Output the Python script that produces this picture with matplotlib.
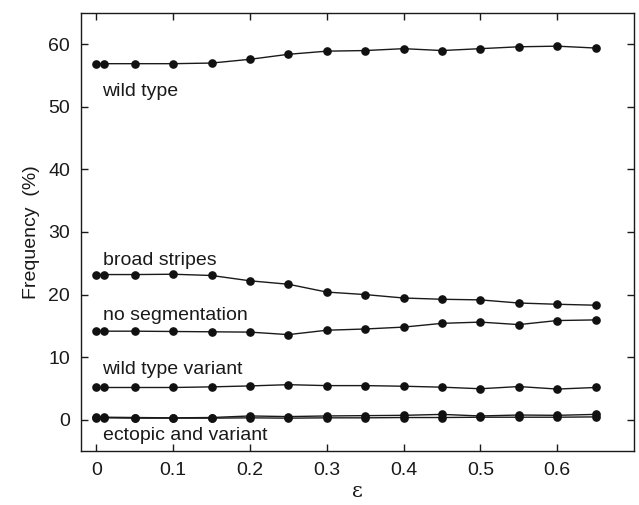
import matplotlib
matplotlib.use("Agg")
import matplotlib.pyplot as plt

plt.rcParams['font.family'] = ['Liberation Sans', 'DejaVu Sans']

eps = [0.0, 0.01, 0.05, 0.1, 0.15, 0.2, 0.25, 0.3, 0.35, 0.4, 0.45, 0.5, 0.55, 0.6, 0.65]

wild_type = [56.9, 56.9, 56.9, 56.9, 57.0, 57.6, 58.4, 58.9, 59.0, 59.3, 59.0, 59.3, 59.6, 59.7, 59.4]
broad_stripes = [23.2, 23.2, 23.2, 23.25, 23.05, 22.2, 21.65, 20.4, 20.0, 19.45, 19.25, 19.15, 18.65, 18.45, 18.3]
no_segmentation = [14.15, 14.15, 14.15, 14.1, 14.05, 14.0, 13.6, 14.3, 14.5, 14.8, 15.4, 15.6, 15.2, 15.85, 15.95]
wild_type_variant = [5.15, 5.15, 5.15, 5.15, 5.25, 5.4, 5.6, 5.45, 5.45, 5.35, 5.2, 4.95, 5.3, 4.9, 5.15]
ectopic = [0.4, 0.4, 0.35, 0.3, 0.35, 0.6, 0.5, 0.6, 0.65, 0.7, 0.85, 0.6, 0.75, 0.7, 0.85]
variant = [0.3, 0.3, 0.25, 0.25, 0.25, 0.3, 0.25, 0.3, 0.3, 0.35, 0.35, 0.4, 0.4, 0.4, 0.45]

series = [wild_type, broad_stripes, no_segmentation, wild_type_variant, ectopic, variant]

labels = ["wild type", "broad stripes", "no segmentation", "wild type variant", "ectopic and variant"]
label_y = [52.5, 25.5, 16.7, 8.1, -2.6]

fig = plt.figure(figsize=(6.39, 5.05), dpi=100)
ax = fig.add_axes([81/639, 1 - 451/505, (634-81)/639, (451-13)/505])

for s in series:
    ax.plot(eps, s, color='#1a1a1a', lw=1.0, marker='o', markersize=5.2,
            markerfacecolor='#111111', markeredgecolor='#111111')

for lab, yy in zip(labels, label_y):
    ax.text(0.008, yy, lab, fontsize=14, ha='left', va='center', color='#1a1a1a')

ax.set_xlim(-0.02, 0.70)
ax.set_ylim(-5, 65)
ax.set_xticks([0, 0.1, 0.2, 0.3, 0.4, 0.5, 0.6])
ax.set_xticklabels(['0', '0.1', '0.2', '0.3', '0.4', '0.5', '0.6'])
ax.set_yticks([0, 10, 20, 30, 40, 50, 60])
ax.tick_params(direction='in', top=True, right=True, length=5, width=1,
               labelsize=14, colors='#1a1a1a', pad=8)
for sp in ax.spines.values():
    sp.set_linewidth(1.0)
    sp.set_color('#1a1a1a')

ax.set_ylabel('Frequency  (%)', fontsize=14, color='#1a1a1a', labelpad=6)
ax.set_xlabel('ε', fontsize=15, family=['DejaVu Serif'], color='#1a1a1a', labelpad=2)

fig.savefig('out.png', dpi=100)
